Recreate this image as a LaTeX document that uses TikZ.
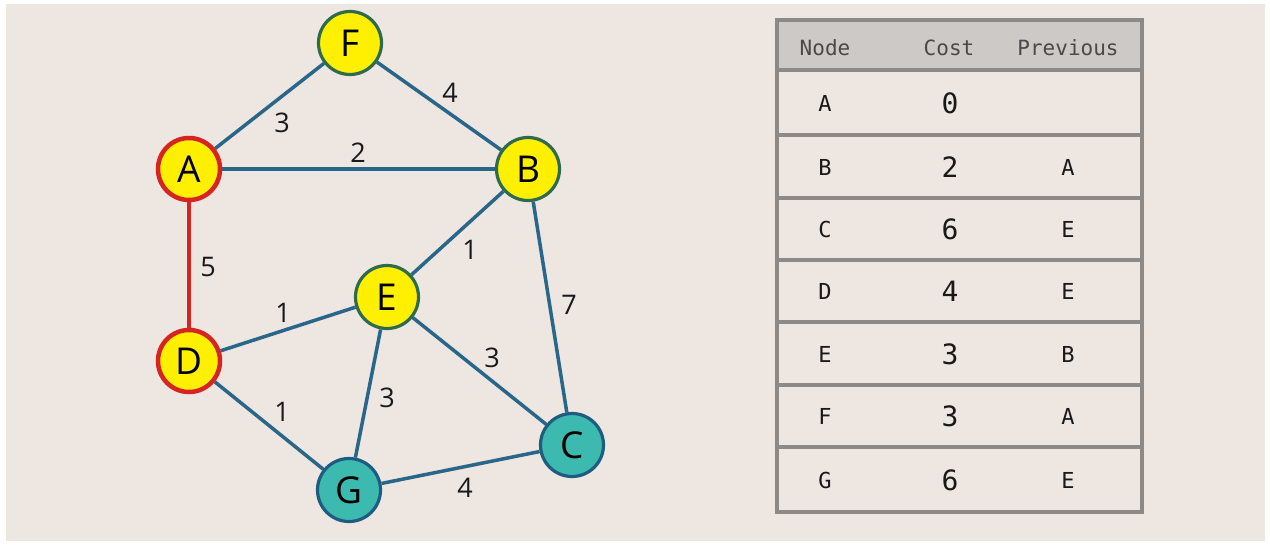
\documentclass[tikz,border=0pt]{standalone}
\usepackage{fontspec}
\setmainfont{Open Sans}
\newfontfamily\tabfont{DejaVu Sans Mono}
\usetikzlibrary{backgrounds}
\definecolor{paper}{HTML}{EEE6E1}
\definecolor{nodeyellow}{HTML}{FFEF00}
\definecolor{rimgreen}{HTML}{2E6A4C}
\definecolor{rimred}{HTML}{D62420}
\definecolor{tealfill}{HTML}{3CBAB0}
\definecolor{rimblue}{HTML}{1F5D80}
\definecolor{edgeblue}{HTML}{28668A}
\definecolor{gridgray}{HTML}{8C8987}
\definecolor{headgray}{HTML}{CDC9C6}
\definecolor{headtext}{HTML}{4A4848}
\tikzset{
  vtx/.style={circle, minimum size=63pt, inner sep=0pt, line width=3.2pt,
              font=\fontsize{37}{37}\selectfont, text=black},
  open/.style={vtx, fill=nodeyellow, draw=rimgreen},
  done/.style={vtx, fill=nodeyellow, draw=rimred, line width=4.5pt, minimum size=62pt},
  far/.style={vtx, fill=tealfill, draw=rimblue},
  link/.style={draw=edgeblue, line width=3.5pt},
  chosen/.style={draw=rimred, line width=4.5pt},
  wt/.style={font=\fontsize{27}{27}\selectfont, text=black!90, inner sep=0pt},
  cell/.style={font=\tabfont\fontsize{22}{22}\selectfont, text=black!90, inner sep=0pt},
  costcell/.style={font=\tabfont\fontsize{28}{28}\selectfont, text=black!90, inner sep=0pt},
  headcell/.style={font=\tabfont\fontsize{21}{21}\selectfont, text=headtext, inner sep=0pt},
  grid/.style={draw=gridgray, line width=3.5pt}
}
\begin{document}
\begin{tikzpicture}[x=1pt, y=-1pt]
\useasboundingbox (0,0) rectangle (1270,544);

% graph vertices
\node[open] (F) at (350,43)  {F};
\node[done] (A) at (189,169) {A};
\node[open] (B) at (528,169) {B};
\node[open] (E) at (387,297) {E};
\node[done] (D) at (189,361) {D};
\node[far]  (G) at (349,490) {G};
\node[far]  (C) at (572,445) {C};

% page and weighted edges, drawn underneath the vertices
\begin{scope}[on background layer]
  \fill[white] (0,0) rectangle (1270,544);
  \fill[paper] (6,4) rectangle (1265,541);
  \draw[link] (A) -- (F);
  \draw[link] (F) -- (B);
  \draw[link] (A) -- (B);
  \draw[chosen] (A) -- (D);
  \draw[link] (B) -- (E);
  \draw[link] (B) -- (C);
  \draw[link] (D) -- (E);
  \draw[link] (E) -- (C);
  \draw[link] (E) -- (G);
  \draw[link] (D) -- (G);
  \draw[link] (G) -- (C);
\end{scope}

% edge weights
\node[wt] (wAF) at (282,123) {3};
\node[wt] (wFB) at (450,93)  {4};
\node[wt] (wAB) at (358,153) {2};
\node[wt] (wAD) at (208,267) {5};
\node[wt] (wBE) at (470,250) {1};
\node[wt] (wBC) at (569,305) {7};
\node[wt] (wDE) at (283,313) {1};
\node[wt] (wEC) at (492,358) {3};
\node[wt] (wEG) at (387,398) {3};
\node[wt] (wDG) at (282,412) {1};
\node[wt] (wGC) at (465,488) {4};

% distance table
\fill[headgray] (777,20) rectangle (1142,70);
\foreach \ya/\yb in {70/135,135/198,198/260,260/322,322/385,385/447,447/512}
  \draw[grid] (777,\ya) rectangle (1142,\yb);
\draw[grid] (777,20) rectangle (1142,512);

\node[headcell] (hN) at (825,48) {Node};
\node[headcell] (hC) at (949,48) {Cost};
\node[headcell] (hP) at (1068,48) {Previous};

\foreach \n/\c/\p/\y in {A/0//103, B/2/A/167, C/6/E/229, D/4/E/291,
                         E/3/B/354, F/3/A/416, G/6/E/480}{
  \node[cell]     (n\n) at (825,\y)  {\n};
  \node[costcell] (c\n) at (950,\y)  {\c};
  \node[cell]     (p\n) at (1068,\y) {\p};
}
\end{tikzpicture}
\end{document}
